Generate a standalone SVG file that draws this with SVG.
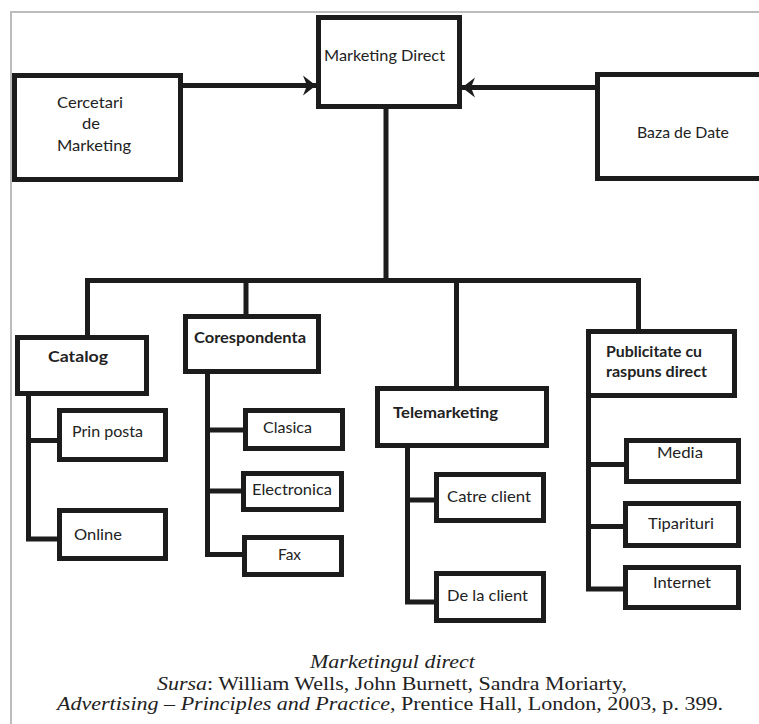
<svg xmlns="http://www.w3.org/2000/svg" width="759" height="724" viewBox="0 0 759 724">
<style>
.bg{fill:#fff}
.frame{stroke:#bcbcbc;stroke-width:2;fill:none}
.box{fill:#fff;stroke:#1c1c1c;stroke-width:5}
.con{fill:none;stroke:#1c1c1c;stroke-width:5;stroke-linejoin:miter}
.t{font-family:Lato,"Open Sans",sans-serif;font-size:15px;fill:#222}
.b{font-weight:700}
.cap{font-family:"Liberation Serif","Times New Roman",serif;font-size:18px;fill:#222}
.i{font-style:italic}
</style>
<defs>
<marker id="arr" markerUnits="userSpaceOnUse" markerWidth="16" markerHeight="24" refX="14" refY="12" orient="auto" viewBox="0 0 16 24">
<path d="M14,12 L1,2 L5,12 L1,22 Z" fill="#1c1c1c"/>
</marker>
</defs>
<rect class="bg" x="0" y="0" width="759" height="724"/>
<path class="frame" d="M759,12 H11 V724"/>

<g id="connectors">
<path class="con" d="M183,85.5 H316" marker-end="url(#arr)"/>
<path class="con" d="M595,87.5 H462" marker-end="url(#arr)"/>
<path class="con" d="M386,109 V280.5"/>
<path class="con" d="M87.5,335 V280.5 H638.5 V329"/>
<path class="con" d="M246,280.5 V314"/>
<path class="con" d="M456.5,280.5 V386"/>
<path class="con" d="M28.5,396 V539 H57 M28.5,440.5 H57"/>
<path class="con" d="M207.5,374 V554.5 H242 M207.5,430 H243 M207.5,491 H241"/>
<path class="con" d="M407.5,448 V602 H434 M407.5,500 H434"/>
<path class="con" d="M588.5,398 V589 H623 M588.5,464.5 H624 M588.5,526.5 H623"/>
</g>

<g id="marketing-direct">
<rect class="box" x="318.5" y="17.5" width="141" height="89"/>
<text class="t" x="324" y="61" textLength="121" lengthAdjust="spacingAndGlyphs">Marketing Direct</text>
</g>
<g id="cercetari">
<rect class="box" x="14.5" y="75.5" width="166" height="104"/>
<text class="t" x="57" y="108" textLength="66" lengthAdjust="spacingAndGlyphs">Cercetari</text>
<text class="t" x="82" y="129" textLength="18" lengthAdjust="spacingAndGlyphs">de</text>
<text class="t" x="57" y="151" textLength="74" lengthAdjust="spacingAndGlyphs">Marketing</text>
</g>
<g id="baza-de-date">
<rect class="box" x="597.5" y="74.5" width="175" height="104"/>
<text class="t" x="637" y="138" textLength="92" lengthAdjust="spacingAndGlyphs">Baza de Date</text>
</g>

<g id="catalog">
<rect class="box" x="17.5" y="337.5" width="129" height="56"/>
<text class="t b" x="48" y="362" textLength="60" lengthAdjust="spacingAndGlyphs">Catalog</text>
</g>
<g id="prin-posta">
<rect class="box" x="59.5" y="410.5" width="106" height="49"/>
<text class="t" x="72" y="437" textLength="71" lengthAdjust="spacingAndGlyphs">Prin posta</text>
</g>
<g id="online">
<rect class="box" x="59.5" y="510.5" width="106" height="48"/>
<text class="t" x="74" y="540" textLength="48" lengthAdjust="spacingAndGlyphs">Online</text>
</g>

<g id="corespondenta">
<rect class="box" x="185.5" y="316.5" width="133" height="55"/>
<text class="t b" x="194" y="343" textLength="112" lengthAdjust="spacingAndGlyphs">Corespondenta</text>
</g>
<g id="clasica">
<rect class="box" x="245.5" y="410.5" width="97" height="38"/>
<text class="t" x="263" y="433" textLength="49" lengthAdjust="spacingAndGlyphs">Clasica</text>
</g>
<g id="electronica">
<rect class="box" x="243.5" y="473.5" width="98" height="36"/>
<text class="t" x="252" y="495" textLength="80" lengthAdjust="spacingAndGlyphs">Electronica</text>
</g>
<g id="fax">
<rect class="box" x="244.5" y="537.5" width="97" height="37"/>
<text class="t" x="278" y="560" textLength="23" lengthAdjust="spacingAndGlyphs">Fax</text>
</g>

<g id="telemarketing">
<rect class="box" x="377.5" y="388.5" width="169" height="57"/>
<text class="t b" x="393" y="418" textLength="105" lengthAdjust="spacingAndGlyphs">Telemarketing</text>
</g>
<g id="catre-client">
<rect class="box" x="436.5" y="474.5" width="107" height="46"/>
<text class="t" x="447" y="502" textLength="84" lengthAdjust="spacingAndGlyphs">Catre client</text>
</g>
<g id="de-la-client">
<rect class="box" x="436.5" y="573.5" width="107" height="47"/>
<text class="t" x="447" y="601" textLength="81" lengthAdjust="spacingAndGlyphs">De la client</text>
</g>

<g id="publicitate">
<rect class="box" x="588.5" y="331.5" width="146" height="64"/>
<text class="t b" x="606" y="357" textLength="96" lengthAdjust="spacingAndGlyphs">Publicitate cu</text>
<text class="t b" x="606" y="377" textLength="101" lengthAdjust="spacingAndGlyphs">raspuns direct</text>
</g>
<g id="media">
<rect class="box" x="626.5" y="440.5" width="112" height="41"/>
<text class="t" x="657" y="458" textLength="46" lengthAdjust="spacingAndGlyphs">Media</text>
</g>
<g id="tiparituri">
<rect class="box" x="625.5" y="503.5" width="113" height="42"/>
<text class="t" x="648" y="529" textLength="66" lengthAdjust="spacingAndGlyphs">Tiparituri</text>
</g>
<g id="internet">
<rect class="box" x="625.5" y="567.5" width="113" height="40"/>
<text class="t" x="653" y="588" textLength="58" lengthAdjust="spacingAndGlyphs">Internet</text>
</g>

<g id="caption">
<text class="cap i" x="310" y="668" textLength="165" lengthAdjust="spacingAndGlyphs">Marketingul direct</text>
<text class="cap" x="157" y="690" textLength="470" lengthAdjust="spacingAndGlyphs"><tspan class="i">Sursa</tspan>: William Wells, John Burnett, Sandra Moriarty,</text>
<text class="cap" x="57" y="710" textLength="666" lengthAdjust="spacingAndGlyphs"><tspan class="i">Advertising – Principles and Practice</tspan>, Prentice Hall, London, 2003, p. 399.</text>
</g>
</svg>
